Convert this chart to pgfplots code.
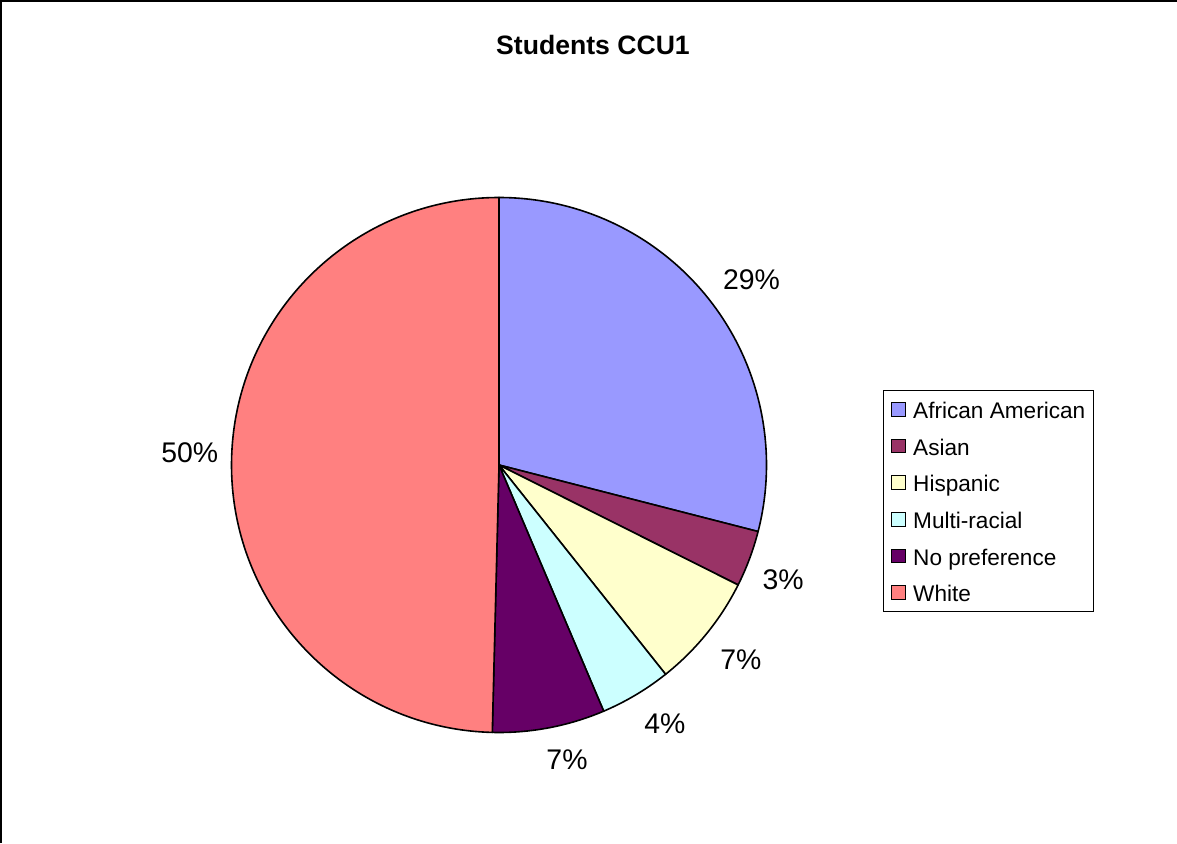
\documentclass[border=0pt]{standalone}
\usepackage{pgfplots}
\usepackage{pgfplotstable}
\pgfplotsset{compat=1.18}
\usepackage{fontspec}
\setmainfont{Liberation Sans}
\definecolor{pie0}{HTML}{9999FF}
\definecolor{pie1}{HTML}{993366}
\definecolor{pie2}{HTML}{FFFFCC}
\definecolor{pie3}{HTML}{CCFFFF}
\definecolor{pie4}{HTML}{660066}
\definecolor{pie5}{HTML}{FF8080}
% value = share in percent; ldx, ldy = small nudges of the percent label
\pgfplotstableread[col sep=comma]{
label,value,ldx,ldy
African American,29.0,9.1,-3.8
Asian,3.4,-4.4,-7.0
Hispanic,6.9,2.8,-0.9
Multi-racial,4.3,8.3,5.6
No preference,6.8,10.3,8.0
White,49.6,-1.3,8.1
}\piedata
\begin{document}
\begin{tikzpicture}
\begin{axis}[
  x=0.5pt, y=0.5pt, xmin=0, xmax=1177, ymin=0, ymax=843,
  hide axis, clip=false,
  title={Students CCU1},
  title style={at={(0.5038,0.9324)}, anchor=center, font=\bfseries\fontsize{13.3}{16}\selectfont},
  legend cell align=left,
  legend image code/.code={\draw[#1] (0pt,-3.4pt) rectangle (6.8pt,3.4pt); \path (10.5pt,0pt);},
  legend style={at={(axis cs:882.7,453)}, anchor=north west, draw=black, line width=0.5pt,
    font=\fontsize{11.3}{13}\selectfont, inner xsep=4pt, inner ysep=4.3pt, row sep=7.9pt,
    nodes={inner sep=0pt, text height=9.8pt, text depth=0.6pt}},
]
\pgfplotstablegetrowsof{\piedata}
\pgfmathtruncatemacro\lastrow{\pgfplotsretval-1}
\def\cum{0}
\pgfplotsforeachungrouped \i in {0,...,\lastrow}{%
  \pgfplotstablegetelem{\i}{value}\of\piedata \let\v\pgfplotsretval
  \pgfplotstablegetelem{\i}{label}\of\piedata \let\lab\pgfplotsretval
  \pgfplotstablegetelem{\i}{ldx}\of\piedata \let\ldx\pgfplotsretval
  \pgfplotstablegetelem{\i}{ldy}\of\piedata \let\ldy\pgfplotsretval
  \pgfmathsetmacro\a{90-3.6*\cum}%
  \pgfmathsetmacro\b{90-3.6*(\cum+\v)}%
  \pgfmathsetmacro\m{(\a+\b)/2}%
  \pgfmathsetmacro\sx{499+267.5*cos(\a)}%
  \pgfmathsetmacro\sy{378+267.5*sin(\a)}%
  \pgfmathsetmacro\lx{499+308*cos(\m)+\ldx}%
  \pgfmathsetmacro\ly{378+308*sin(\m)+\ldy}%
  \pgfmathtruncatemacro\pct{round(\v)}%
  \pgfmathsetmacro\cum{\cum+\v}%
  \edef\temp{\noexpand\filldraw[fill=pie\i, draw=black, line width=0.8pt, line join=round] (axis cs:499,378) -- (axis cs:\sx,\sy) arc[start angle=\a, end angle=\b, radius=133.75pt] -- cycle;
    \noexpand\node[inner sep=0pt, font=\noexpand\fontsize{14.2}{16}\noexpand\selectfont] at (axis cs:\lx,\ly) {\pct\noexpand\%};
    \noexpand\addlegendimage{fill=pie\i, draw=black}
    \noexpand\addlegendentry{\lab}}%
  \temp
}
\end{axis}
\draw[line width=1pt] (0.5pt,0pt) -- (0.5pt,421pt) -- (588.5pt,421pt);
\pgfresetboundingbox
\path[use as bounding box] (0,0) rectangle (588.5pt,421.5pt);
\end{tikzpicture}
\end{document}
